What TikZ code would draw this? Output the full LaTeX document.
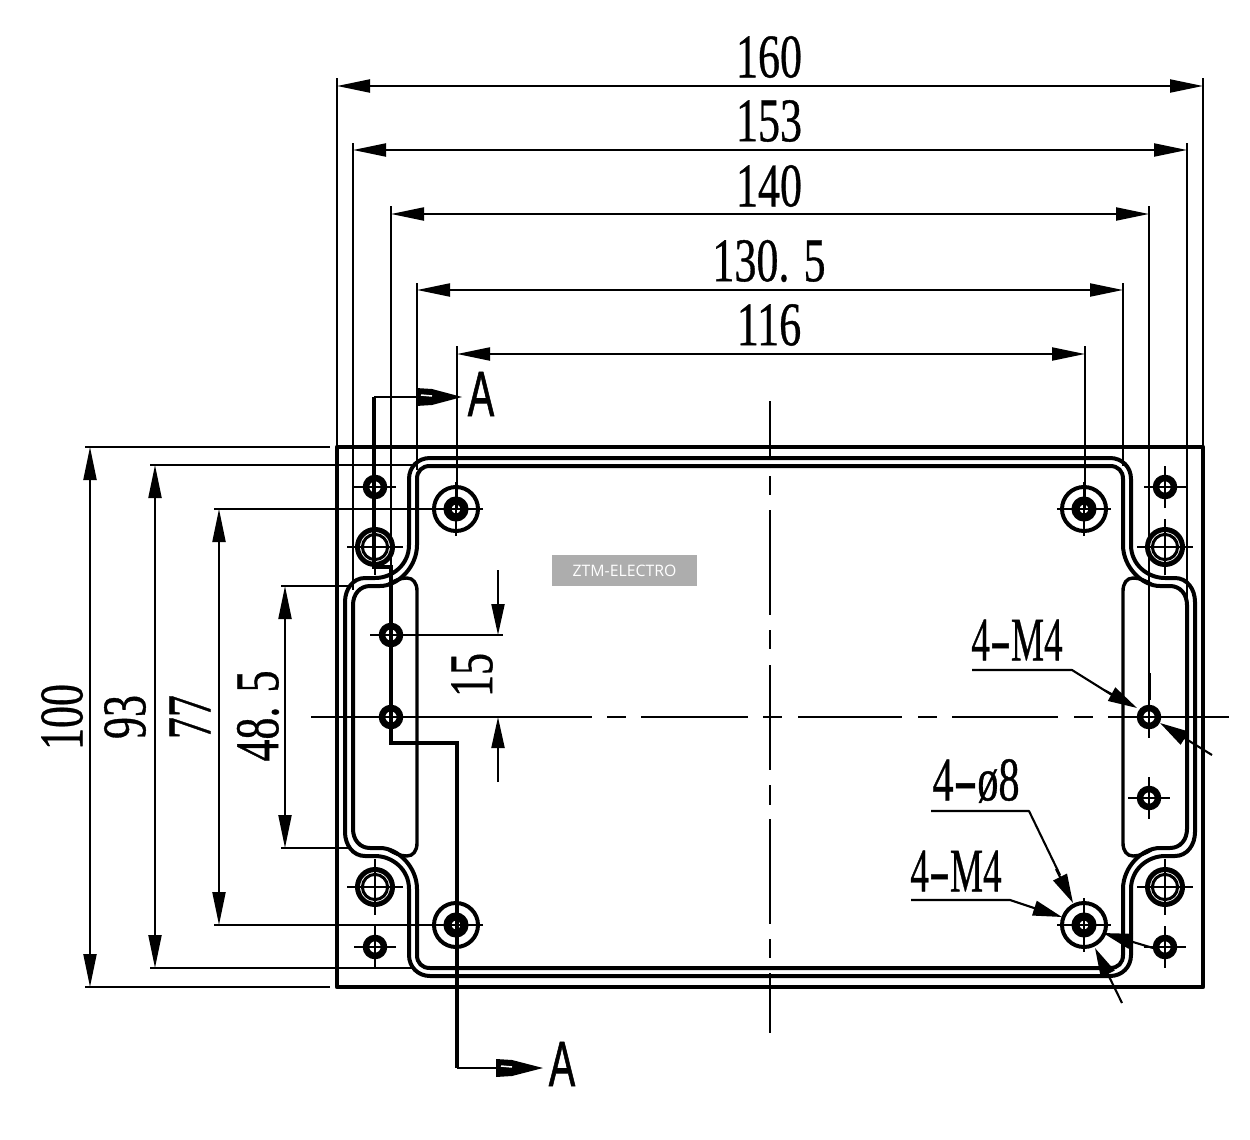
\documentclass[tikz,border=0pt]{standalone}
\usepackage{graphicx}
\usepackage{fontspec}
\setmainfont[FakeBold=0.7]{Liberation Serif}
\newfontfamily\wmfont{Open Sans}
\newfontfamily\secfont[FakeBold=1.2]{Liberation Sans}
\usetikzlibrary{arrows.meta}
\newcommand{\dimt}[2][.71]{\scalebox{#1}[1]{\fontsize{62}{62}\selectfont #2}}
\newcommand{\longhyph}{\scalebox{1.7}[1]{-}}
\tikzset{
  dimln/.style={line width=2.1pt,{Triangle[length=33pt,width=13pt]}-{Triangle[length=33pt,width=13pt]}},
  oneway/.style={line width=2.1pt,-{Triangle[length=31pt,width=13pt]}},
  thin line/.style={line width=2.1pt},
  thick line/.style={line width=4pt},
  frame line/.style={line width=4.6pt},
  label/.style={inner sep=0pt,text=black},
  leader/.style={line width=2.1pt,line join=round},
  leadarrow/.style={line width=2.1pt,-{Triangle[length=29pt,width=15pt]}},
}
\newcommand{\smallhole}[2]{%
  \draw[line width=6.5pt] (#1,#2) circle (9);
  \draw[line width=2pt] (#1-21,#2) -- (#1+21,#2) (#1,#2-21) -- (#1,#2+21);}
\newcommand{\medhole}[2]{%
  \draw[line width=5pt] (#1,#2) circle (17.5);
  \draw[line width=3pt] (#1,#2) circle (12.6);
  \draw[line width=2pt] (#1-28,#2) -- (#1+28,#2) (#1,#2-28) -- (#1,#2+28);}
\newcommand{\boss}[2]{%
  \draw[line width=4pt] (#1,#2) circle (22);
  \draw[line width=8pt] (#1,#2) circle (8.5);
  \draw[line width=2pt] (#1-27,#2) -- (#1+27,#2) (#1,#2-27) -- (#1,#2+27);}
\begin{document}
\begin{tikzpicture}[x=1pt,y=-1pt]
\useasboundingbox (0,0) rectangle (1250,1140);
\fill[white] (0,0) rectangle (1250,1140);

% extension lines: top
\draw[thin line]
  (337,78) -- (337,447) (1203,78) -- (1203,447)
  (353,143) -- (353,590) (1187,143) -- (1187,600)
  (391,206) -- (391,625) (1149,206) -- (1149,705)
  (417,283) -- (417,470) (1123,283) -- (1123,466)
  (457,346) -- (457,509) (1085,346) -- (1085,509);
\draw[line width=3pt] (1149,673) -- (1149,700);
% extension lines: left
\draw[thin line]
  (85,447) -- (330,447) (85,987) -- (330,987)
  (150,465) -- (415,465) (150,968) -- (415,968)
  (214,509) -- (457,509) (214,925) -- (457,925)
  (281,586) -- (350,586) (281,848) -- (350,848)
  (380,635) -- (503,635);

% centre lines
\draw[thin line]
  (311,717) -- (592,717) (607,717) -- (626,717) (641,717) -- (748,717)
  (763,717) -- (782,717) (798,717) -- (902,717) (918,717) -- (937,717)
  (952,717) -- (1058,717) (1074,717) -- (1093,717) (1108,717) -- (1229,717);
\draw[thin line]
  (770,401) -- (770,458) (770,476) -- (770,495) (770,510) -- (770,615)
  (770,630) -- (770,649) (770,665) -- (770,770) (770,785) -- (770,805)
  (770,819) -- (770,924) (770,939) -- (770,958) (770,973) -- (770,1033);

% body
\draw[frame line,line join=round] (337,447) rectangle (1203,987);
\foreach \sx/\sy in {1/1,-1/1,1/-1,-1/-1}{
  \begin{scope}[shift={(770,717)},xscale=\sx,yscale=\sy]
    \draw[thick line] (0,259) -- (340,259) .. controls (352,259) and (361,250) .. (361,238)
      -- (361,172) .. controls (361,152) and (378,139) .. (395,139)
      -- (405,139) .. controls (417,139) and (425,128) .. (425,115) -- (425,0);
    \draw[thick line] (0,251) -- (340,251) .. controls (348,251) and (353,246) .. (353,238)
      -- (353,172) .. controls (353,150) and (372,131) .. (390,131)
      -- (400,131) .. controls (410,131) and (417,123) .. (417,112) -- (417,0);
    \draw[line width=3.4pt] (353,0) -- (353,126) .. controls (353,134) and (357,139) .. (363,139)
      .. controls (370,139) and (376,136) .. (381,133);
    \smallhole{395}{230}
    \medhole{395}{170}
    \boss{314}{208}
  \end{scope}
}
\smallhole{391}{635}
\smallhole{391}{717}
\smallhole{1149}{717}
\smallhole{1149}{798}

% dimensions: top
\draw[dimln] (337,86) -- (1203,86);
\draw[dimln] (353,150) -- (1187,150);
\draw[dimln] (391,214) -- (1149,214);
\draw[dimln] (417,290) -- (1123,290);
\draw[dimln] (457,354) -- (1085,354);
\node[label] (t160) at (769,57) {\dimt{160}};
\node[label] (t153) at (769,121) {\dimt{153}};
\node[label] (t140) at (769,186) {\dimt{140}};
\node[label] (t1305) at (769,261) {\dimt{130.\kern.32em 5}};
\node[label] (t116) at (769,325) {\dimt{116}};

% dimensions: left
\draw[dimln] (90,447) -- (90,987);
\draw[dimln] (155,465) -- (155,968);
\draw[dimln] (219,509) -- (219,925);
\draw[dimln] (285,586) -- (285,848);
\draw[oneway] (498,570) -- (498,635);
\draw[oneway] (498,782) -- (498,717);
\node[label,rotate=90] (t100) at (62,717) {\dimt{100}};
\node[label,rotate=90] (t93) at (125,717) {\dimt{93}};
\node[label,rotate=90] (t77) at (190,717) {\dimt{77}};
\node[label,rotate=90] (t485) at (258,716) {\dimt{48.\kern.32em 5}};
\node[label,rotate=90] (t15) at (472,675) {\dimt{15}};

% section line
\draw[thick line,line join=miter] (374,397) -- (374,567) -- (391,567) -- (391,743) -- (457,743) -- (457,1068);
\draw[thin line] (374,397) -- (416,397);
\draw[thin line] (457,1068) -- (497,1068);
\fill (416,388) -- (432,389) -- (462,397) -- (432,405) -- (416,406) -- cycle;
\fill (496,1059) -- (512,1060) -- (543,1068) -- (512,1076) -- (496,1077) -- cycle;
\draw[white,line width=1.5pt] (421,395) -- (432,396) (501,1066) -- (512,1067);
\node[label] (secA) at (481,394) {\scalebox{.62}[1]{\secfont\fontsize{64}{64}\selectfont A}};
\node[label] (secB) at (562,1064) {\scalebox{.62}[1]{\secfont\fontsize{64}{64}\selectfont A}};

% leaders
\node[label] (m4a) at (1017,640) {\dimt[.6]{4\longhyph M4}};
\node[label] (d8) at (976,781) {\dimt[.68]{4\longhyph ø8}};
\node[label] (m4b) at (956,871) {\dimt[.6]{4\longhyph M4}};
\coordinate (m4aend) at (1212,755);
\draw[leader] (972,670) -- (1072,670) -- (1112,695);
\draw[leadarrow] (1105,690.5) -- (1137,708);
\draw[leadarrow] (m4aend) -- (1160,723);
\draw[leader] (931,811) -- (1029,811) -- (1060,875);
\draw[leadarrow] (1056,869) -- (1073,903);
\draw[leadarrow] (1122,1003) -- (1095,948);
\draw[leader] (911,900) -- (1010,900) -- (1040,910);
\draw[leadarrow] (1034,908) -- (1062,917);
\draw[leadarrow] (1153,948) -- (1103,933);

% watermark
\node[fill=black!32,minimum width=145pt,minimum height=31pt,inner sep=0pt,text=white] (wm) at (624.5,570.5)
  {\wmfont\fontsize{15.8}{15.8}\selectfont ZTM-ELECTRO};
\end{tikzpicture}
\end{document}
